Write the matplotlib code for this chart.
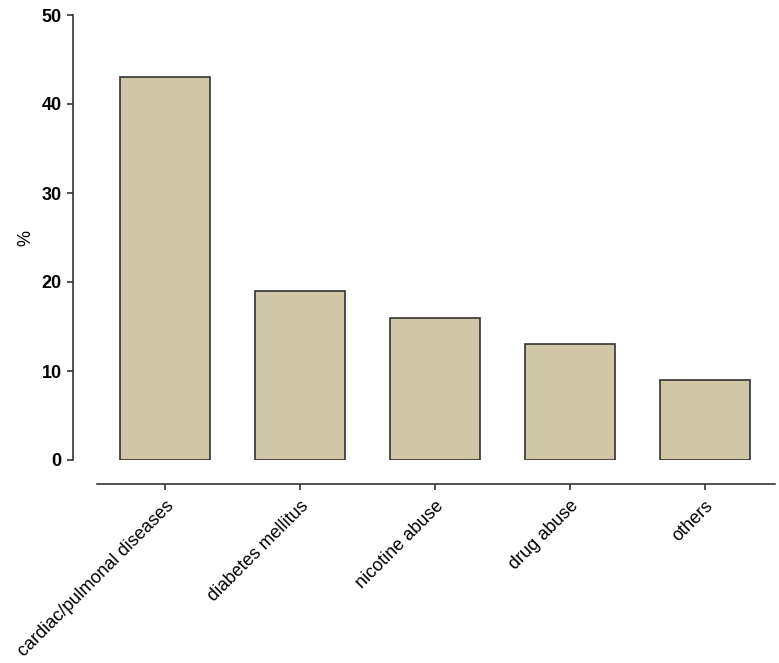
import matplotlib
matplotlib.use("Agg")
import matplotlib.pyplot as plt

categories = ["cardiac/pulmonal diseases", "diabetes mellitus", "nicotine abuse",
              "drug abuse", "others"]
values = [43, 19, 16, 13, 9]
yticks = [0, 10, 20, 30, 40, 50]

plt.rcParams['font.family'] = ['Liberation Sans', 'DejaVu Sans']

W, H = 779, 663
fig = plt.figure(figsize=(W / 100, H / 100), dpi=100)
# axes box in pixels: left 97, right 775, top 15, bottom 460
ax = fig.add_axes([97 / W, 1 - 460 / H, (775 - 97) / W, (460 - 15) / H])

# spines first: set_position resets the ticks
for s in ("top", "right"):
    ax.spines[s].set_visible(False)
ax.spines["left"].set_position(("outward", 17.3))
ax.spines["bottom"].set_position(("outward", 17.3))
for s in ("left", "bottom"):
    ax.spines[s].set_color("#333333")
    ax.spines[s].set_linewidth(1.2)

x = range(len(categories))
ax.bar(x, values, width=0.667, color="#d0c6a8", edgecolor="#333333", linewidth=1.2)

ax.set_xlim(-0.504, 4.52)
ax.set_ylim(0, 50)
ax.tick_params(axis="both", colors="#333333", length=4.5, width=1.2, labelcolor="black")
ax.tick_params(axis="x", pad=5)
ax.set_yticks(yticks)
ax.set_yticklabels([str(v) for v in yticks], fontsize=13, fontweight="bold")
ax.set_xticks(list(x))
ax.set_xticklabels(categories, rotation=45, ha="right", rotation_mode="anchor",
                   fontsize=13)
ax.set_ylabel("%", fontsize=13)
ax.yaxis.set_label_coords(-0.093, 0.5)

fig.savefig("out.png", dpi=100)
